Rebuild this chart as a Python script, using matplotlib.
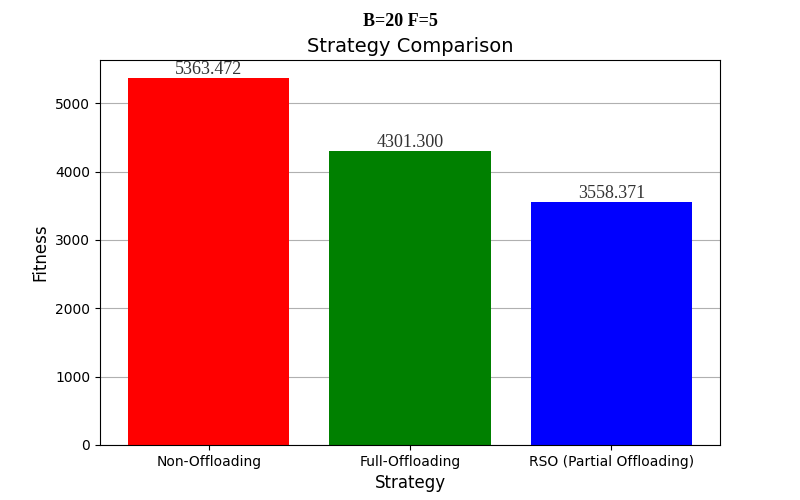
import matplotlib.pyplot as plt

strategies = ['Non-Offloading', 'Full-Offloading', 'RSO (Partial Offloading)']
fitness = [5363.472, 4301.300, 3558.371]
colors = ['red', 'green', 'blue']

fig, ax = plt.subplots(figsize=(8, 5), dpi=100)
fig.suptitle('B=20 F=5', fontsize=13, fontweight='bold', family='Liberation Serif', y=0.975)

bars = ax.bar(strategies, fitness, color=colors)
ax.set_axisbelow(True)
ax.grid(axis='y')

# value labels on top of each bar
for bar, val in zip(bars, fitness):
    ax.text(bar.get_x() + bar.get_width() / 2, val, f'{val:.3f}',
            ha='center', va='bottom', fontsize=13,
            family='Liberation Serif', color='#333333')

ax.set_title('Strategy Comparison', fontsize=14)
ax.set_xlabel('Strategy', fontsize=12)
ax.set_ylabel('Fitness', fontsize=12)

plt.savefig('out.png')
